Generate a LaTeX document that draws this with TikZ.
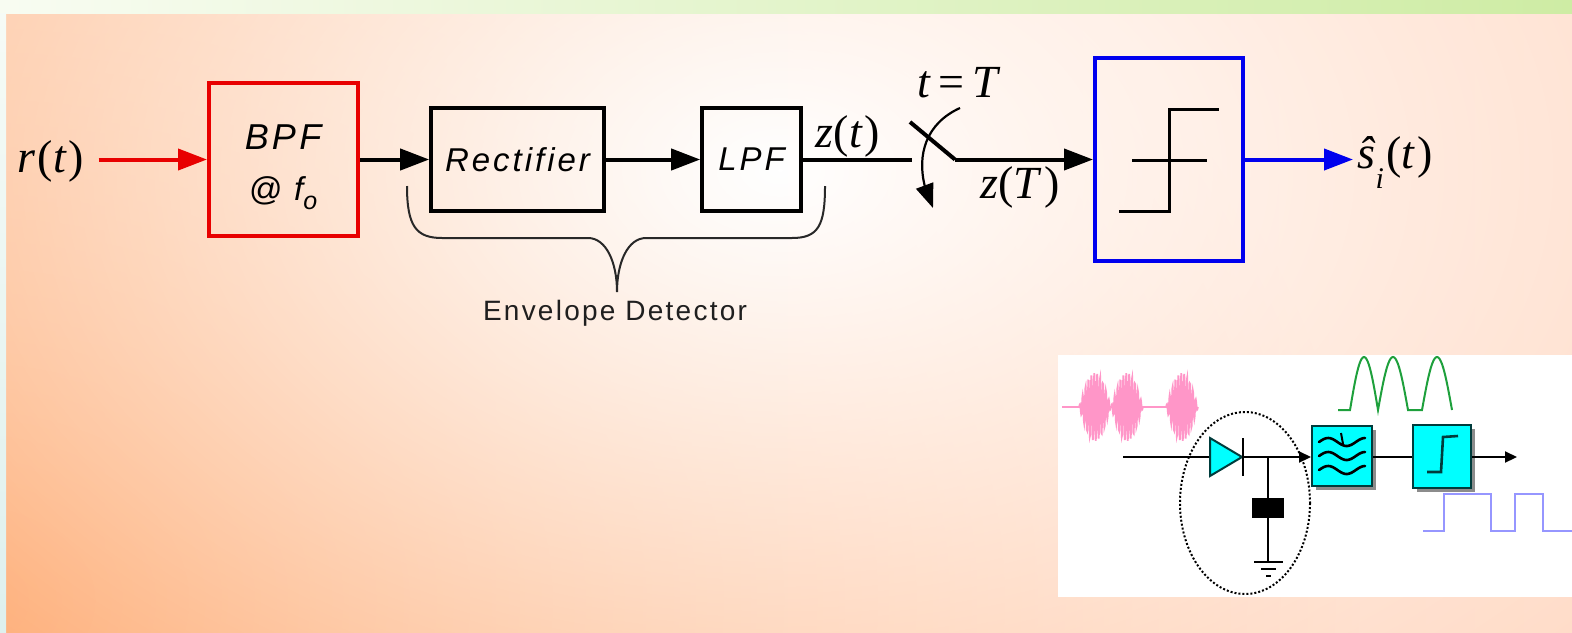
\documentclass[tikz,border=0pt]{standalone}
\usepackage{fontspec}
\setmainfont{Liberation Serif}
\newfontfamily\blockfont[LetterSpace=9]{Liberation Sans}
\newfontfamily\captfont[LetterSpace=8]{Liberation Sans}
\usetikzlibrary{arrows.meta,calc,fadings,bending}

\definecolor{bgL}{RGB}{254,208,178}
\definecolor{bgR}{RGB}{255,216,194}
\definecolor{bgBL}{RGB}{255,166,106}
\definecolor{bandL}{RGB}{248,252,242}
\definecolor{bandM}{RGB}{236,244,196}
\definecolor{bandR}{RGB}{206,236,164}
\definecolor{stripT}{RGB}{246,251,246}
\definecolor{stripB}{RGB}{222,240,238}
\definecolor{bpfred}{RGB}{232,0,0}
\definecolor{decblue}{RGB}{0,0,238}
\definecolor{aqua}{RGB}{0,255,255}
\definecolor{aquaedge}{RGB}{0,60,60}
\definecolor{burstpink}{RGB}{255,150,200}
\definecolor{humpgreen}{RGB}{30,160,60}
\definecolor{squareblue}{RGB}{150,150,255}
\definecolor{bracegray}{RGB}{40,40,40}

\tikzfading[name=glowfade, inner color=transparent!0, outer color=transparent!100]

\tikzset{
  blockbox/.style={draw=black, line width=1.8pt, inner sep=0pt},
  blocktext/.style={font=\blockfont\itshape\fontsize{16.5pt}{18pt}\selectfont},
  sigtext/.style={font=\fontsize{23pt}{23pt}\selectfont, inner sep=0pt},
  sigarrow/.style={line width=2pt, -{Triangle[length=14.5pt,width=10.5pt]}},
  wire/.style={line width=2pt},
  inwire/.style={line width=1pt},
  smallhead/.style={-{Triangle[length=6pt,width=5.5pt]}},
  cyanbox/.style={fill=aqua, draw=aquaedge, line width=1pt, inner sep=0pt},
}

\begin{document}
\begin{tikzpicture}[x=0.5pt,y=-0.5pt]
\useasboundingbox (0,0) rectangle (1572,632);

% ---- backdrop ----
\shade[left color=bgL, right color=bgR] (6,13) rectangle (1572,632);
\begin{scope}
  \clip (6,13) rectangle (1572,632);
  \fill[bgBL, path fading=glowfade] (-40,600) ellipse (1400 and 1000);
  \fill[white, path fading=glowfade] (780,170) ellipse (1200 and 780);
\end{scope}
\shade[left color=bandL, middle color=bandM, right color=bandR] (0,0) rectangle (1572,13);
\shade[top color=stripT, bottom color=stripB] (0,13) rectangle (6,632);

% ---- receiver chain ----
\node[sigtext, anchor=base] (rt) at (51,172) {\textit{r}\kern1pt(\textit{t}\kern1pt)};

\node[blockbox, draw=bpfred, line width=2pt, minimum width=74.5pt, minimum height=76.5pt] (bpf) at (283.5,159.5) {};
\node[blocktext, anchor=base, font=\blockfont\itshape\fontsize{18pt}{20pt}\selectfont] (bpfa) at (283,149) {BPF};
\node[blocktext, anchor=base, font=\blockfont\itshape\fontsize{16.5pt}{18pt}\selectfont] (bpfb) at (283,200)
  {@\hspace{6pt}f\raisebox{-4.5pt}{\fontsize{12.5pt}{12.5pt}\selectfont o}};

\node[blockbox, blocktext, minimum width=86.5pt, minimum height=51.5pt] (rect) at (517.5,159.5) {Rectifier};
\node[blockbox, blocktext, minimum width=49.5pt, minimum height=51.5pt] (lpf) at (751.5,159.5) {LPF};

\node[blockbox, draw=decblue, line width=2pt, minimum width=74pt, minimum height=101.5pt] (dec) at (1169,159.5) {};

\coordinate (swin) at (912,159.5);
\coordinate (swtop) at (910,122);
\coordinate (swpiv) at (955,159.5);
\coordinate (cla) at (960,108);
\coordinate (clb) at (933,208);

\node[sigtext, anchor=base] (zt) at (848,147) {\textit{z}(\textit{t}\kern1pt)};
\node[sigtext, anchor=base] (tT) at (959,97) {\textit{t}\,=\,\textit{T}};
\node[sigtext, anchor=base] (zT) at (1020,198) {\textit{z}(\textit{T}\kern1pt)};
\node[sigtext, anchor=base west] (shat) at (1357,168)
  {\textit{ŝ}\raisebox{-10pt}{\fontsize{15pt}{15pt}\selectfont\textit{i}}\kern1pt(\textit{t}\kern1pt)};

\draw[sigarrow, bpfred] ($(rt.east |- bpf.west)+(14,0)$) -- (bpf.west);
\draw[sigarrow] (bpf.east) -- (rect.west);
\draw[sigarrow] (rect.east) -- (lpf.west);
\draw[wire] (lpf.east) -- (swin);
\draw[wire] (swtop) -- (swpiv);
\draw[sigarrow] (swpiv) -- (dec.west);
\draw[sigarrow, decblue] (dec.east) -- ($(shat.west |- dec.east)+(-4,0)$);
\draw[line width=1.1pt, -{Triangle[length=12pt,width=9pt,flex]}]
  (cla) .. controls (918,127) and (914,170) .. (clb);

% threshold characteristic
\draw[line width=1.5pt] (1132,160) -- (1207,160);
\draw[line width=1.5pt] (1119,211) -- (1169,211) -- (1169,109) -- (1219,109);

% brace under the envelope detector
\coordinate (bl) at (407,186);
\coordinate (br) at (825,186);
\coordinate (btip) at (617,292);
\draw[bracegray, line width=1pt]
  (bl) .. controls (407,226) and (416,238) .. (442,238) -- (588,238)
  .. controls (606,238) and (617,262) .. (btip)
  .. controls (617,262) and (628,238) .. (646,238) -- (792,238)
  .. controls (818,238) and (825,226) .. (br);
\node[font=\captfont\fontsize{14pt}{15pt}\selectfont, text=black!88, anchor=base] (envl) at (615,320) {Envelope Detector};

% ---- envelope detector sketch ----
\fill[white] (1058,355) rectangle (1572,597);

% AM bursts at the input
\draw[burstpink, line width=1pt] (1062,407) -- (1197,407);
\foreach \c in {1095,1127,1182} {
  \draw[burstpink, line width=0.9pt]
    plot[domain=-1:1, samples=131, variable=\t] ({\c+16*\t}, {407+34*cos(90*\t)*sin(1980*\t)});
}

% rectified humps
\draw[humpgreen, line width=1pt] (1338,410) --
  plot[domain=0:180, samples=25, variable=\a] ({1350+28*\a/180}, {410-53*sin(\a)}) --
  plot[domain=0:180, samples=25, variable=\a] ({1378+30*\a/180}, {410-53*sin(\a)}) --
  plot[domain=0:180, samples=25, variable=\a] ({1422+30*\a/180}, {410-53*sin(\a)});

% sliced square wave
\draw[squareblue, line width=1pt] (1423,531) -- (1444,531) -- (1444,494) -- (1491,494)
  -- (1491,531) -- (1515,531) -- (1515,494) -- (1543,494) -- (1543,531) -- (1572,531);

% drop shadows of the two blocks
\fill[black!45] (1316,430) rectangle (1376,490);
\fill[black!45] (1417,429) rectangle (1475,492);
\node[cyanbox, minimum width=30pt, minimum height=30pt] (flt) at (1342,456) {};
\node[cyanbox, minimum width=29pt, minimum height=31.5pt] (cmp) at (1442,456) {};

\coordinate (inL) at (1123,457);
\coordinate (outR) at (1517,457);
\draw[inwire, smallhead] (inL) -- (inL -| flt.west);
\draw[inwire] (flt.east |- inL) -- (cmp.west |- inL);
\draw[inwire, smallhead] (cmp.east |- inL) -- (outR);

% filter symbol
\foreach \yy in {442,456,470} {
  \draw[line width=1.3pt, line cap=round]
    plot[domain=0:1, samples=30, variable=\u] ({1319+46*\u}, {\yy-4*sin(450*\u)});
}
\draw[line width=1pt] (1341,433) -- (1343,444);

% comparator symbol
\draw[aquaedge, line width=1.3pt] (1427,472) -- (1441,472) -- (1443,437) -- (1458,436);

% diode, capacitor and ground
\filldraw[fill=aqua, draw=aquaedge, line width=1pt] (1210,438) -- (1242,457) -- (1210,476) -- cycle;
\draw[line width=1.3pt] (1243,438) -- (1243,476);
\coordinate (jn) at (1268,457);
\node[fill=black, minimum width=16pt, minimum height=10pt, inner sep=0pt] (cap) at (1268,508) {};
\coordinate (gnd) at (1268,562);
\draw[inwire] (jn) -- (cap.north);
\draw[inwire] (cap.south) -- (gnd);
\draw[inwire] (1254,562) -- (1283,562);
\draw[inwire] (1261,569) -- (1276,569);
\draw[inwire] (1266,576) -- (1271,576);
\draw[densely dotted, line width=1pt] (1245,503) ellipse (65 and 91);

\end{tikzpicture}
\end{document}
